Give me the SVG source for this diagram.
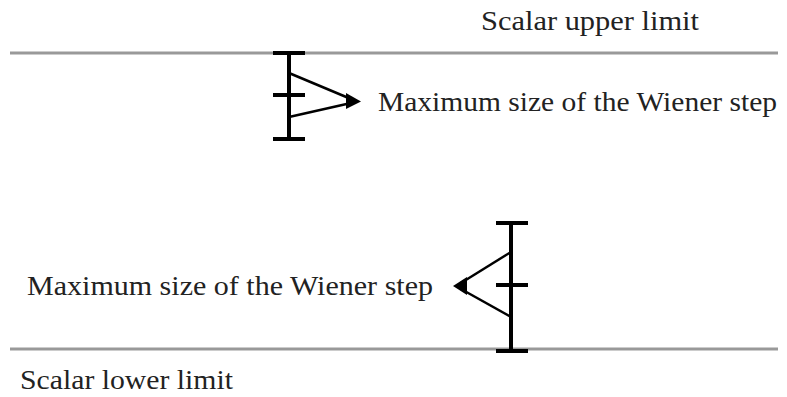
<svg xmlns="http://www.w3.org/2000/svg" width="787" height="397" viewBox="0 0 787 397">
<style>
.limit{stroke:#999;stroke-width:3;fill:none}
.bar{stroke:#000;stroke-width:4;fill:none}
.arr{stroke:#000;stroke-width:2.5;fill:none}
text{font-family:"Liberation Serif","DejaVu Serif",serif;font-size:28px;fill:#222}
</style>
<g id="upper-limit">
<line class="limit" x1="10" y1="53" x2="778" y2="53"/>
<text x="481" y="30" textLength="218" lengthAdjust="spacingAndGlyphs">Scalar upper limit</text>
</g>
<g id="lower-limit">
<line class="limit" x1="10" y1="349" x2="778" y2="349"/>
<text x="20" y="389" textLength="213" lengthAdjust="spacingAndGlyphs">Scalar lower limit</text>
</g>
<g id="upper-step">
<line class="bar" x1="289" y1="53" x2="289" y2="139"/>
<line class="bar" x1="273" y1="53" x2="305" y2="53"/>
<line class="bar" x1="273" y1="95" x2="305" y2="95"/>
<line class="bar" x1="273" y1="139" x2="305" y2="139"/>
<text x="378" y="111" textLength="399" lengthAdjust="spacingAndGlyphs">Maximum size of the Wiener step</text>
</g>
<g id="lower-step">
<line class="bar" x1="511" y1="223" x2="511" y2="351"/>
<line class="bar" x1="496" y1="223" x2="528" y2="223"/>
<line class="bar" x1="496" y1="285" x2="528" y2="285"/>
<line class="bar" x1="496" y1="351" x2="528" y2="351"/>
<text x="27" y="295" textLength="406" lengthAdjust="spacingAndGlyphs">Maximum size of the Wiener step</text>
</g>
<g id="connectors">
<line class="arr" x1="289" y1="73" x2="351" y2="99"/>
<line class="arr" x1="289" y1="117" x2="351" y2="103"/>
<path d="M346,93 L361,101.5 L346,109 z" fill="#000"/>
<line class="arr" x1="511" y1="252" x2="461" y2="283"/>
<line class="arr" x1="511" y1="317" x2="461" y2="289"/>
<path d="M467,277 L453,286 L467,295 z" fill="#000"/>
</g>
</svg>
